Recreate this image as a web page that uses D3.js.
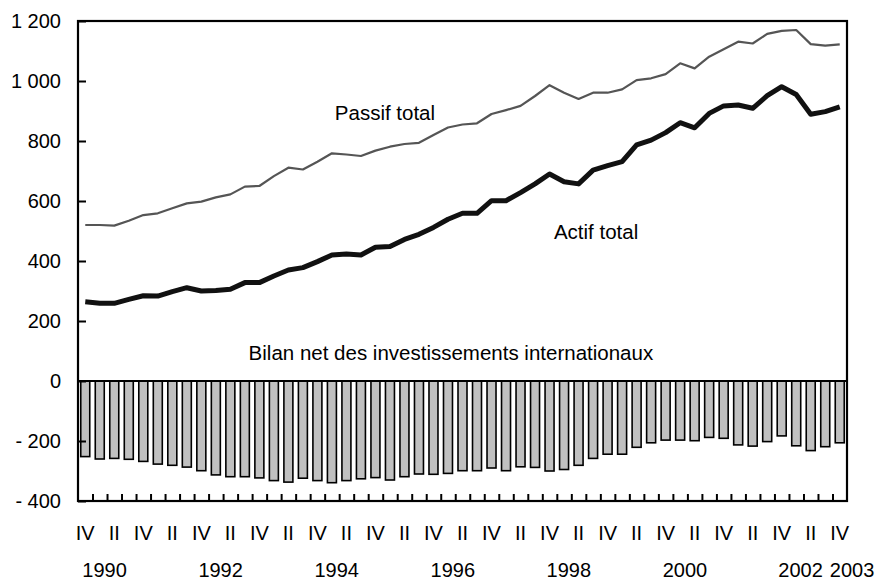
<!DOCTYPE html>
<html>
<head>
<meta charset="utf-8">
<script src="https://cdn.jsdelivr.net/npm/d3@7"></script>
<style>
  body { margin: 0; background: #fff; }
  text { font-family: "Liberation Sans", Arial, sans-serif; fill: #000; }
</style>
</head>
<body>
<div class="container"></div>
<script>
// Quarterly series, 1990 Q4 -> 2003 Q4 (53 quarters)
const quarterLabels = ['IV', 'I', 'II', 'III'];

const passifTotal = [520, 520, 518, 534, 553, 559, 576, 592, 598, 612, 622, 648, 650, 683, 711, 705,
  731, 759, 755, 750, 768, 781, 790, 794, 820, 845, 855, 859, 890, 903, 917, 950, 986, 961, 940,
  961, 961, 972, 1003, 1009, 1023, 1059, 1042, 1081, 1106, 1131, 1125, 1157, 1167, 1170, 1123, 1118, 1122];

const actifTotal = [264, 259, 259, 272, 284, 283, 298, 311, 300, 302, 306, 328, 328, 350, 370, 378,
  398, 420, 423, 420, 446, 448, 472, 489, 512, 539, 559, 559, 601, 601, 628, 657, 690, 664, 657,
  703, 718, 731, 787, 803, 828, 861, 844, 892, 917, 920, 909, 951, 981, 955, 889, 898, 914];

const bilanNet = [-252, -260, -258, -261, -268, -277, -281, -287, -299, -313, -319, -319, -323, -332, -337, -324,
  -332, -339, -332, -326, -322, -330, -319, -310, -311, -308, -299, -299, -290, -299, -286, -288, -300, -295, -281,
  -258, -244, -244, -221, -206, -197, -197, -199, -188, -191, -213, -217, -202, -183, -216, -232, -219, -206];

const yTicks = [-400, -200, 0, 200, 400, 600, 800, 1000, 1200];

// year labels and the quarter index they sit near
const years = ['1990', '1992', '1994', '1996', '1998', '2000', '2002', '2003'];
const yearIdx = [1.33, 9.33, 17.33, 25.33, 33.33, 41.33, 49.3, 52.85];

const seriesLabels = [
  {text: 'Passif total', idx: 17.7, value: 870, anchor: 'start'},
  {text: 'Actif total', idx: 32.8, value: 475, anchor: 'start'},
  {text: 'Bilan net des investissements internationaux', idx: 25.7, value: 70, anchor: 'middle'}
];

const width = 887;
const height = 581;
const plotLeft = 78, plotRight = 847, plotTop = 21, plotBottom = 501;

const svg = d3.select('.container')
  .append('svg')
  .attr('width', width)
  .attr('height', height);

const n = passifTotal.length;
const idx = d3.range(n);

const xBand = d3.scaleBand().domain(idx).range([plotLeft, plotRight]).paddingInner(0.38).paddingOuter(0.19);
const xLin = d3.scaleLinear().domain([0, n]).range([plotLeft, plotRight]);
const xc = i => xLin(i + 0.5);
const y = d3.scaleLinear().domain([-400, 1200]).range([plotBottom, plotTop]);

// bars
svg.append('g')
  .selectAll('rect')
  .data(bilanNet)
  .enter()
  .append('rect')
  .attr('x', (d, i) => xBand(i))
  .attr('width', xBand.bandwidth())
  .attr('y', y(0))
  .attr('height', d => y(d) - y(0))
  .attr('fill', '#c0c0c0')
  .attr('stroke', '#000')
  .attr('stroke-width', 1.6);

// lines
const line = d3.line().x((d, i) => xc(i)).y(d => y(d));

svg.append('path')
  .datum(passifTotal)
  .attr('d', line)
  .attr('fill', 'none')
  .attr('stroke', '#555')
  .attr('stroke-width', 2.2)
  .attr('stroke-linejoin', 'round');

svg.append('path')
  .datum(actifTotal)
  .attr('d', line)
  .attr('fill', 'none')
  .attr('stroke', '#111')
  .attr('stroke-width', 5)
  .attr('stroke-linejoin', 'round');

// y axis
const fr = d3.formatLocale({decimal: ',', thousands: ' ', grouping: [3], currency: ['', '']}).format(',');
const yAxis = d3.axisLeft(y)
  .tickValues(yTicks)
  .tickSize(-8)
  .tickPadding(17)
  .tickFormat(d => d < 0 ? '- ' + fr(-d) : fr(d));

const gy = svg.append('g')
  .attr('transform', `translate(${plotLeft}, 0)`)
  .call(yAxis);
gy.select('.domain').remove();
gy.selectAll('line').attr('stroke', '#000').attr('stroke-width', 2);
gy.selectAll('text').style('font-size', '20px').attr('fill', '#000');

// x axis ticks
const xAxis = d3.axisBottom(xLin)
  .tickValues(d3.range(1, n))
  .tickSize(-7)
  .tickFormat('');
const gx = svg.append('g')
  .attr('transform', `translate(0, ${plotBottom})`)
  .call(xAxis);
gx.select('.domain').remove();
gx.selectAll('line').attr('stroke', '#000').attr('stroke-width', 2);

// zero line and frame
svg.append('line')
  .attr('x1', plotLeft).attr('x2', plotRight)
  .attr('y1', y(0)).attr('y2', y(0))
  .attr('stroke', '#000').attr('stroke-width', 2.2);

svg.append('rect')
  .attr('x', plotLeft).attr('y', plotTop)
  .attr('width', plotRight - plotLeft).attr('height', plotBottom - plotTop)
  .attr('fill', 'none')
  .attr('stroke', '#000')
  .attr('stroke-width', 2.2);

// quarter labels
svg.append('g')
  .selectAll('text')
  .data(idx.filter(i => i % 2 === 0))
  .enter()
  .append('text')
  .attr('x', i => xc(i))
  .attr('y', 540)
  .attr('text-anchor', 'middle')
  .style('font-size', '20px')
  .text(i => quarterLabels[i % 4]);

// year labels
svg.append('g')
  .selectAll('text')
  .data(years)
  .enter()
  .append('text')
  .attr('x', (d, i) => xc(yearIdx[i]))
  .attr('y', 577)
  .attr('text-anchor', 'middle')
  .style('font-size', '20px')
  .text(d => d);

// series labels
svg.append('g')
  .selectAll('text')
  .data(seriesLabels)
  .enter()
  .append('text')
  .attr('x', d => xLin(d.idx))
  .attr('y', d => y(d.value))
  .attr('text-anchor', d => d.anchor)
  .style('font-size', '20.5px')
  .text(d => d.text);
</script>
</body>
</html>
